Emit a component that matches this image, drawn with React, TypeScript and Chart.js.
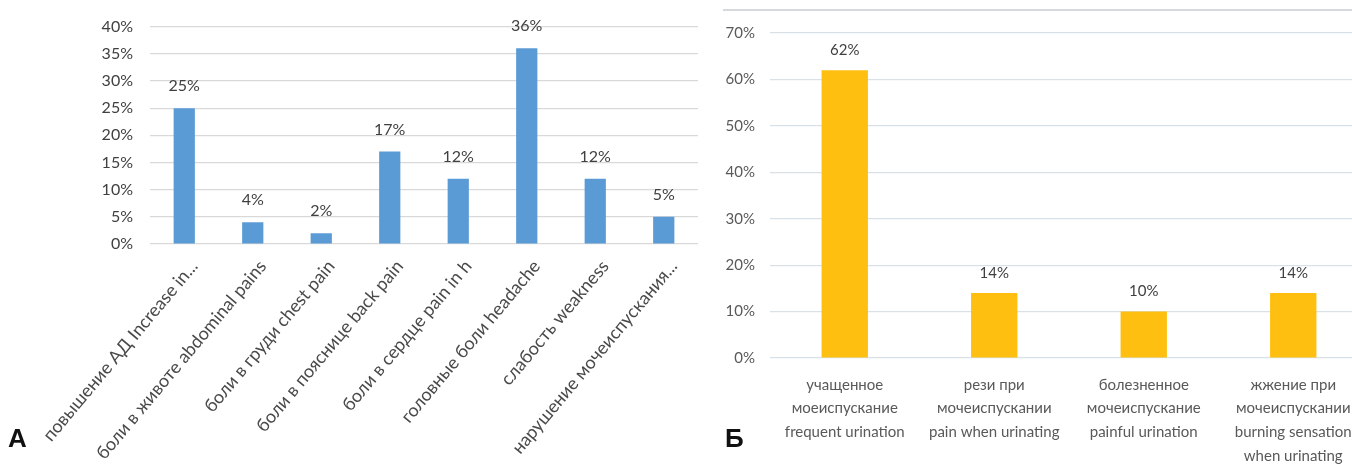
import React, { useEffect, useRef } from "react";
import { Chart, registerables } from "chart.js";

Chart.register(...registerables);

// Panel A: symptoms
const symptomLabels = [
  "повышение АД Increase in...",
  "боли в животе abdominal pains",
  "боли в груди chest pain",
  "боли в пояснице back pain",
  "боли в сердце pain in h",
  "головные боли headache",
  "слабость weakness",
  "нарушение мочеиспускания...",
];
const symptomValues = [25, 4, 2, 17, 12, 36, 12, 5];
const symptomAxisMax = 40;
const symptomAxisStep = 5;

// Panel Б: urinary symptoms
const urinaryLabels = [
  ["учащенное", "моеиспускание", "frequent urination"],
  ["рези при", "мочеиспускании", "pain when urinating"],
  ["болезненное", "мочеиспускание", "painful urination"],
  ["жжение при", "мочеиспускании", "burning sensation", "when urinating"],
];
const urinaryValues = [62, 14, 10, 14];
const urinaryAxisMax = 70;
const urinaryAxisStep = 10;

const panelLetters = ["А", "Б"];

const FONT = "Lato, 'Open Sans', 'Liberation Sans', sans-serif";

const valueLabelPlugin = {
  id: "valueLabels",
  afterDatasetsDraw(chart: any, _args: any, opts: any) {
    const ctx = chart.ctx;
    const meta = chart.getDatasetMeta(0);
    const data = chart.data.datasets[0].data;
    ctx.save();
    ctx.font = opts.font;
    ctx.fillStyle = opts.color;
    ctx.textAlign = "center";
    ctx.textBaseline = "middle";
    meta.data.forEach((bar: any, i: number) => {
      ctx.fillText(data[i] + "%", bar.x, bar.y - opts.offset);
    });
    ctx.restore();
  },
};

function ChartA() {
  const ref = useRef<HTMLCanvasElement>(null);
  useEffect(() => {
    const chart = new Chart(ref.current!, {
      type: "bar",
      data: {
        labels: symptomLabels,
        datasets: [
          {
            data: symptomValues,
            backgroundColor: "#5B9BD5",
            barPercentage: 0.31,
            categoryPercentage: 1,
          },
        ],
      },
      plugins: [valueLabelPlugin],
      options: {
        animation: false,
        responsive: false,
        layout: { padding: { top: 22, right: 2, left: 0, bottom: 0 } },
        plugins: {
          legend: { display: false },
          tooltip: { enabled: false },
          valueLabels: { font: `16px ${FONT}`, color: "#404040", offset: 22 },
        } as any,
        scales: {
          x: {
            grid: { display: false },
            border: { display: false },
            ticks: {
              autoSkip: false,
              maxRotation: 50,
              minRotation: 50,
              padding: 4,
              labelOffset: 10,
              color: "#4a4a4a",
              font: { family: FONT, size: 18 },
            },
            afterFit: (s: any) => {
              s.height = 221;
            },
          },
          y: {
            min: 0,
            max: symptomAxisMax,
            grid: { color: "#D9D9D9", drawTicks: false, lineWidth: 1.2 },
            border: { display: false },
            ticks: {
              stepSize: symptomAxisStep,
              padding: 17,
              color: "#404040",
              font: { family: FONT, size: 16 },
              callback: (v: any) => v + "%",
            },
            afterFit: (s: any) => {
              s.width = 150;
            },
          },
        },
      },
    });
    return () => chart.destroy();
  }, []);
  return <canvas ref={ref} width={700} height={465} style={{ position: "absolute", left: 0, top: 0 }} />;
}

function ChartB() {
  const ref = useRef<HTMLCanvasElement>(null);
  useEffect(() => {
    const chart = new Chart(ref.current!, {
      type: "bar",
      data: {
        labels: urinaryLabels as any,
        datasets: [
          {
            data: urinaryValues,
            backgroundColor: "#FEBF10",
            barPercentage: 0.31,
            categoryPercentage: 1,
          },
        ],
      },
      plugins: [valueLabelPlugin],
      options: {
        animation: false,
        responsive: false,
        layout: { padding: { top: 33, right: 12, left: 0, bottom: 0 } },
        plugins: {
          legend: { display: false },
          tooltip: { enabled: false },
          valueLabels: { font: `15px ${FONT}`, color: "#404040", offset: 20 },
        } as any,
        scales: {
          x: {
            grid: { display: false },
            border: { display: false },
            ticks: {
              autoSkip: false,
              maxRotation: 0,
              minRotation: 0,
              padding: 7,
              color: "#595959",
              font: { family: FONT, size: 15, lineHeight: 1.58 },
            },
            afterFit: (s: any) => {
              s.height = 107;
            },
          },
          y: {
            min: 0,
            max: urinaryAxisMax,
            grid: { color: "#D9E1E8", drawTicks: false, lineWidth: 1.2 },
            border: { display: false },
            ticks: {
              stepSize: urinaryAxisStep,
              padding: 15,
              color: "#595959",
              font: { family: FONT, size: 15 },
              callback: (v: any) => v + "%",
            },
            afterFit: (s: any) => {
              s.width = 70;
            },
          },
        },
      },
    });
    return () => chart.destroy();
  }, []);
  return <canvas ref={ref} width={680} height={465} style={{ position: "absolute", left: 0, top: 0 }} />;
}

const letterStyle: React.CSSProperties = {
  position: "absolute",
  fontFamily: "'Liberation Sans', Arial, sans-serif",
  fontWeight: 700,
  fontSize: 26,
  lineHeight: "26px",
  color: "#111",
};

export default function App() {
  return (
    <div
      style={{
        position: "fixed",
        left: 0,
        top: 0,
        width: 1352,
        height: 465,
        overflow: "hidden",
        background: "#fff",
      }}
    >
      <ChartA />
      <div style={{ position: "absolute", left: 700, top: 0, width: 680, height: 465 }}>
        <ChartB />
      </div>
      <div
        style={{
          position: "absolute",
          left: 723,
          top: 9,
          width: 640,
          height: 0,
          borderTop: "2px solid #D6DADE",
        }}
      />
      <div style={{ ...letterStyle, left: 8, top: 425 }}>{panelLetters[0]}</div>
      <div style={{ ...letterStyle, left: 725, top: 425 }}>{panelLetters[1]}</div>
    </div>
  );
}
